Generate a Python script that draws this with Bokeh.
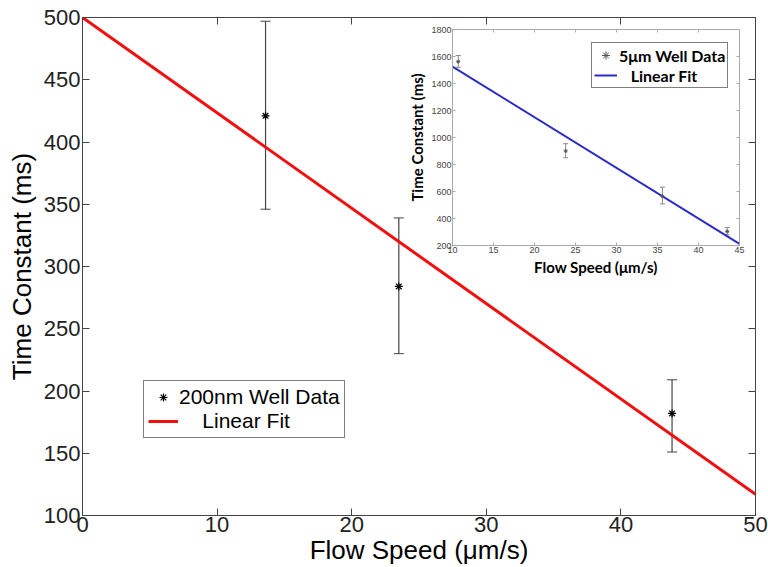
from bokeh.plotting import figure
from bokeh.models import (Whisker, ColumnDataSource, LinearAxis, FixedTicker, Legend, LegendItem, Range1d)
from bokeh.layouts import column
from bokeh.embed import file_html
from bokeh.resources import INLINE

# ---- main data (200nm well) ----
main_speed = [13.6, 23.5, 43.8]
main_tc = [421, 284, 182]
main_lower = [346, 230, 151]
main_upper = [497, 339, 209]
main_fit_x = [0, 50]
main_fit_y = [500, 117]
main_xticks = [0, 10, 20, 30, 40, 50]
main_yticks = [100, 150, 200, 250, 300, 350, 400, 450, 500]

# ---- inset data (5um well) ----
ins_speed = [10.7, 23.8, 35.6, 43.5]
ins_tc = [1562, 900, 565, 304]
ins_lower = [1520, 850, 508, 279]
ins_upper = [1607, 954, 632, 334]
ins_fit_x = [10, 45]
ins_fit_y = [1525, 212]
ins_xticks = [10, 15, 20, 25, 30, 35, 40, 45]
ins_yticks = [200, 400, 600, 800, 1000, 1200, 1400, 1600, 1800]

FONT = "Liberation Sans"
NB = "\u00a0"

def style_axis(ax, ticks, fs, color="#222222", label_fs=None, bold=False, font=FONT,
               tick_len=7, line_color="#444444"):
    ax.ticker = FixedTicker(ticks=ticks)
    ax.major_tick_in = tick_len
    ax.major_tick_out = 0
    ax.minor_tick_line_color = None
    ax.major_label_text_font = FONT
    ax.major_label_text_font_size = fs
    ax.major_label_text_color = color
    ax.axis_line_color = line_color
    ax.major_tick_line_color = line_color
    if label_fs:
        ax.axis_label_text_font = font
        ax.axis_label_text_font_size = label_fs
        ax.axis_label_text_font_style = "bold" if bold else "normal"
        ax.axis_label_text_color = "black"

def mirror_axes(fig, xticks, yticks, tick_len, line_color):
    top_ax = LinearAxis()
    style_axis(top_ax, xticks, "0px", tick_len=tick_len, line_color=line_color)
    top_ax.major_label_text_alpha = 0
    fig.add_layout(top_ax, "above")
    right_ax = LinearAxis()
    style_axis(right_ax, yticks, "0px", tick_len=tick_len, line_color=line_color)
    right_ax.major_label_text_alpha = 0
    fig.add_layout(right_ax, "right")

# ================= main figure =================
p = figure(width=768, height=567, x_range=Range1d(0, 50), y_range=Range1d(100, 500),
           output_backend="svg", toolbar_location=None,
           min_border_left=82, min_border_right=13, min_border_top=17, min_border_bottom=47)
p.grid.visible = False
p.outline_line_color = "#444444"
p.xaxis.axis_label = "Flow Speed (\u03bcm/s)"
p.yaxis.axis_label = "Time Constant (ms)"
style_axis(p.xaxis[0], main_xticks, "22px", label_fs="26px")
style_axis(p.yaxis[0], main_yticks, "22px", label_fs="26px")
p.xaxis[0].major_label_standoff = 1
p.xaxis[0].axis_label_standoff = 0
p.yaxis[0].major_label_standoff = 2
p.yaxis[0].axis_label_standoff = 4
mirror_axes(p, main_xticks, main_yticks, 7, "#444444")

msrc = ColumnDataSource(dict(x=main_speed, y=main_tc, lo=main_lower, hi=main_upper))
w = Whisker(base="x", lower="lo", upper="hi", source=msrc, line_color="#444444", line_width=1.2)
w.upper_head.line_color = "#444444"
w.lower_head.line_color = "#444444"
w.upper_head.size = 10
w.lower_head.size = 10
p.add_layout(w)
fit_r = p.line(main_fit_x, main_fit_y, line_color="#f01010", line_width=3)
pt_r = p.scatter("x", "y", source=msrc, marker="asterisk", size=8, line_color="black", line_width=1.2)

leg = Legend(items=[LegendItem(label="200nm Well Data", renderers=[pt_r]),
                    LegendItem(label=NB * 4 + "Linear Fit", renderers=[fit_r])],
             location=(61, 77))
leg.label_text_font = FONT
leg.label_text_font_size = "21px"
leg.label_text_color = "black"
leg.border_line_color = "black"
leg.border_line_width = 1
leg.glyph_width = 30
leg.spacing = 0
leg.padding = 4
leg.label_standoff = 1
leg.margin = 0
p.add_layout(leg, "center")

# ================= inset figure =================
IFONT = "Lato"
q = figure(width=382, height=266, x_range=Range1d(10, 45), y_range=Range1d(200, 1800),
           output_backend="svg", toolbar_location=None,
           min_border_left=47, min_border_right=8, min_border_top=12, min_border_bottom=38,
           styles={"position": "absolute", "left": "370px", "top": "17px"})
q.background_fill_color = "white"
q.border_fill_alpha = 0
q.grid.visible = False
q.outline_line_color = "#aaaaaa"
q.xaxis.axis_label = "Flow Speed (\u03bcm/s)"
q.yaxis.axis_label = "Time Constant (ms)"
style_axis(q.xaxis[0], ins_xticks, "9px", color="#444444", label_fs="15px", bold=True,
           font=IFONT, tick_len=3, line_color="#aaaaaa")
style_axis(q.yaxis[0], ins_yticks, "9px", color="#444444", label_fs="15px", bold=True,
           font=IFONT, tick_len=3, line_color="#aaaaaa")
q.xaxis[0].major_label_standoff = 1
q.xaxis[0].axis_label_standoff = 2
q.yaxis[0].major_label_standoff = 1
q.yaxis[0].axis_label_standoff = 2
mirror_axes(q, ins_xticks, ins_yticks, 3, "#aaaaaa")

isrc = ColumnDataSource(dict(x=ins_speed, y=ins_tc, lo=ins_lower, hi=ins_upper))
wi = Whisker(base="x", lower="lo", upper="hi", source=isrc, line_color="#888888", line_width=1)
wi.upper_head.line_color = "#888888"
wi.lower_head.line_color = "#888888"
wi.upper_head.size = 5
wi.lower_head.size = 5
q.add_layout(wi)
ifit = q.line(ins_fit_x, ins_fit_y, line_color="#2a2ac8", line_width=2)
ipt = q.scatter("x", "y", source=isrc, marker="asterisk", size=4, line_color="#555555", line_width=1)

ileg = Legend(items=[LegendItem(label="5\u03bcm Well Data", renderers=[ipt]),
                     LegendItem(label=NB * 3 + "Linear Fit", renderers=[ifit])],
              location=(139, 157))
ileg.label_text_font = IFONT
ileg.label_text_font_style = "bold"
ileg.label_text_font_size = "16px"
ileg.label_text_color = "black"
ileg.border_line_color = "black"
ileg.glyph_width = 23
ileg.spacing = 0
ileg.padding = 2
ileg.label_standoff = 2
ileg.margin = 0
q.add_layout(ileg, "center")

layout = column(p, q, styles={"position": "relative"})
open("out.html", "w").write(file_html(layout, INLINE))
